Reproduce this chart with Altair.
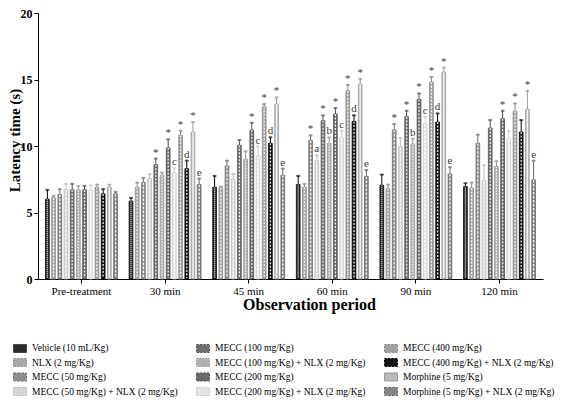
import altair as alt
import pandas as pd

groups = ["Pre-treatment", "30 min", "45 min", "60 min", "90 min", "120 min"]
series = [
    "Vehicle (10 mL/Kg)", "NLX (2 mg/Kg)", "MECC (50 mg/Kg)", "MECC (50 mg/Kg) + NLX (2 mg/Kg)",
    "MECC (100 mg/Kg)", "MECC (100 mg/Kg) + NLX (2 mg/Kg)", "MECC (200 mg/Kg)", "MECC (200 mg/Kg) + NLX (2 mg/Kg)",
    "MECC (400 mg/Kg)", "MECC (400 mg/Kg) + NLX (2 mg/Kg)", "Morphine (5 mg/Kg)", "Morphine (5 mg/Kg) + NLX (2 mg/Kg)",
]

# mean latency (s) per time point, in series order
means_pre = [6.0, 6.1, 6.35, 6.75, 6.7, 6.7, 6.7, 6.65, 6.9, 6.4, 6.9, 6.4]
means_30 = [5.85, 6.9, 7.25, 7.55, 8.6, 7.8, 9.85, 8.0, 10.8, 8.3, 11.05, 7.1]
means_45 = [6.9, 6.85, 8.5, 7.5, 10.05, 9.0, 11.2, 9.25, 12.95, 10.2, 13.15, 7.8]
means_60 = [7.1, 6.9, 10.4, 8.9, 11.9, 10.2, 12.4, 10.6, 14.15, 11.85, 14.65, 7.7]
means_90 = [7.05, 6.8, 11.2, 9.95, 12.2, 10.15, 13.5, 11.65, 14.8, 11.8, 15.55, 7.9]
means_120 = [6.95, 6.85, 10.2, 7.4, 11.35, 8.45, 12.05, 10.55, 12.6, 11.05, 12.75, 7.45]

# upper error (s)
err_pre = [0.7, 0.15, 0.4, 0.4, 0.45, 0.3, 0.3, 0.4, 0.2, 0.35, 0.2, 0.15]
err_30 = [0.25, 0.35, 0.35, 0.35, 0.45, 0.2, 0.65, 0.35, 0.35, 0.6, 0.75, 0.45]
err_45 = [0.85, 0.1, 0.4, 0.4, 0.4, 0.6, 0.55, 0.7, 0.2, 0.45, 0.5, 0.5]
err_60 = [0.65, 0.25, 0.4, 0.4, 0.4, 0.45, 0.45, 0.55, 0.45, 0.45, 0.4, 0.5]
err_90 = [0.8, 0.3, 0.45, 0.65, 0.45, 0.4, 0.45, 0.55, 0.4, 0.65, 0.35, 0.5]
err_120 = [0.25, 0.4, 0.65, 1.15, 0.6, 0.4, 0.6, 0.6, 0.6, 0.9, 1.4, 1.45]

# significance marks
ann_pre = ["", "", "", "", "", "", "", "", "", "", "", ""]
ann_30 = ["", "", "", "", "*", "", "*", "c", "*", "d", "*", "e"]
ann_45 = ["", "", "", "", "", "", "*", "c", "*", "d", "*", "e"]
ann_60 = ["", "", "*", "a", "*", "b", "*", "c", "*", "d", "*", "e"]
ann_90 = ["", "", "*", "", "*", "b", "*", "c", "*", "d", "*", "e"]
ann_120 = ["", "", "", "", "", "", "*", "", "*", "", "*", "e"]

fill_colors = ["#2b2b2b", "#a8a8a8", "#8e8e8e", "#d6d6d6", "#707070", "#b2b2b2",
               "#6a6a6a", "#e4e4e4", "#a2a2a2", "#141414", "#bababa", "#868686"]
stroke_colors = ["#000000", "#8a8a8a", "#6e6e6e", "#bdbdbd", "#505050", "#969696",
                 "#4a4a4a", "#cccccc", "#858585", "#000000", "#9c9c9c", "#646464"]
dash_patterns = [[1, 1], [2, 1.5], [2.5, 1.5], [3, 1], [2, 1.5], [1.5, 1.5],
                 [2, 1.5], [3, 1], [2, 1.5], [2, 1.5], [20, 0], [2.5, 1.5]]

all_means = [means_pre, means_30, means_45, means_60, means_90, means_120]
all_errs = [err_pre, err_30, err_45, err_60, err_90, err_120]
all_anns = [ann_pre, ann_30, ann_45, ann_60, ann_90, ann_120]

rows = []
for g, ms, es, ans in zip(groups, all_means, all_errs, all_anns):
    for s, m, e, a in zip(series, ms, es, ans):
        rows.append({"group": g, "series": s, "mean": m, "top": m + e, "ann": a})
df = pd.DataFrame(rows)

SERIF = "Liberation Serif"

legend = alt.Legend(
    title=None, orient="none", legendX=-25, legendY=328, columns=3,
    symbolType="M-1,-0.62H1V0.62H-1Z", symbolSize=169, symbolStrokeWidth=1,
    labelFont=SERIF, labelFontSize=9.5, labelColor="black", labelOffset=5,
    rowPadding=0.5, columnPadding=16, labelLimit=300,
)

x_enc = alt.X(
    "group:N", sort=groups,
    scale=alt.Scale(paddingInner=0.14, paddingOuter=0.09),
    axis=alt.Axis(title="Observation period", labelAngle=0, labelFont=SERIF, labelFontSize=11,
                  labelColor="black", titleFont=SERIF, titleFontSize=16, titleFontWeight="bold",
                  titleColor="black", domainColor="black", tickColor="black", tickSize=4,
                  labelPadding=2, titleX=271, titleY=25, titleBaseline="middle"),
)
xo_enc = alt.XOffset("series:N", sort=series, scale=alt.Scale(paddingInner=0.4, paddingOuter=0))

y_scale = alt.Scale(domain=[0, 20], nice=False)
y_enc = alt.Y(
    "mean:Q", scale=y_scale,
    axis=alt.Axis(title="Latency time (s)", values=[0, 5, 10, 15, 20], grid=False,
                  labelFont=SERIF, labelFontSize=12, labelFontWeight="bold", labelColor="black",
                  titleFont=SERIF, titleFontSize=15, titleFontWeight="bold", titleColor="black",
                  domainColor="black", tickColor="black", tickSize=4, labelPadding=2,
                  titleX=-16, titleY=127),
)

fill_enc = alt.Fill("series:N", scale=alt.Scale(domain=series, range=fill_colors), legend=legend)
stroke_enc = alt.Stroke("series:N", scale=alt.Scale(domain=series, range=stroke_colors), legend=legend)

base = alt.Chart(df)

bars = base.mark_bar(strokeWidth=0.8).encode(
    x=x_enc, xOffset=xo_enc, y=y_enc, fill=fill_enc, stroke=stroke_enc
)

inner = base.mark_rule(strokeWidth=1.3, color="white", opacity=0.9).encode(
    x=x_enc, xOffset=xo_enc,
    y=alt.Y("mean:Q", scale=y_scale), y2=alt.datum(0.08),
    strokeDash=alt.StrokeDash("series:N", scale=alt.Scale(domain=series, range=dash_patterns), legend=None),
)

errs = base.mark_rule(strokeWidth=1).encode(
    x=x_enc, xOffset=xo_enc,
    y=alt.Y("mean:Q", scale=y_scale), y2="top:Q",
    stroke=stroke_enc,
)

caps = base.mark_tick(size=3, thickness=1, orient="horizontal").encode(
    x=x_enc, xOffset=xo_enc,
    y=alt.Y("top:Q", scale=y_scale),
    stroke=stroke_enc,
)

labels = base.mark_text(font=SERIF, fontSize=11, baseline="bottom", dy=-1, color="#3a3a3a").encode(
    x=x_enc, xOffset=xo_enc,
    y=alt.Y("top:Q", scale=y_scale),
    text="ann:N",
)

chart = alt.layer(bars, inner, errs, caps, labels).properties(
    width=505, height=266,
    autosize=alt.AutoSizeParams(type="none"),
    padding={"left": 30, "top": 5, "right": 16, "bottom": 119},
    background="white",
).configure_view(stroke=None)

chart.save("out.html", embed_options={"renderer": "svg", "actions": False})
